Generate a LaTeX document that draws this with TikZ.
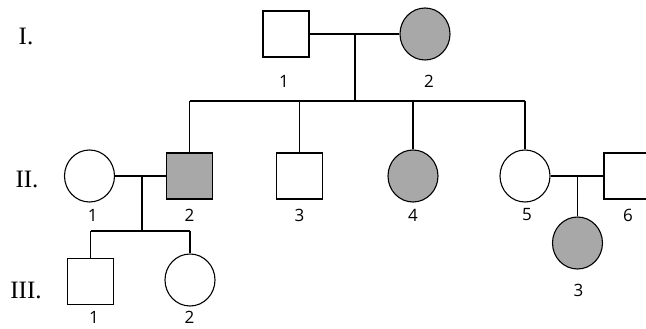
\documentclass[tikz,border=0pt]{standalone}
\usepackage{fontspec}
\setmainfont{Liberation Serif}
\newfontfamily\numfont{Open Sans}
\usepackage{xcolor}
\usetikzlibrary{shapes.geometric}
\definecolor{affgray}{RGB}{168,168,168}

\begin{document}
\begin{tikzpicture}[x=1pt, y=-1pt, line width=1.1pt,
		male/.style={draw, rectangle, minimum size=46pt, inner sep=0pt},
		female/.style={draw, ellipse, minimum width=50pt, minimum height=52pt, inner sep=0pt},
		affected/.style={fill=affgray},
		num/.style={font=\numfont\fontsize{17}{17}\selectfont, inner sep=0pt},
		gen/.style={font=\fontsize{25}{25}\selectfont, inner sep=0pt}]
				\useasboundingbox (0,0) rectangle (646,329);
				% generation I
				\node[gen] (genI) at (26,36) {I.};
				\node[male] (I1) at (286,34) {};
				\node[female, affected] (I2) at (425,34) {};
				\draw (I1.east) -- (I2.west);
				\coordinate (mI) at (355,34);
				\coordinate (sI) at (355,101);
				\draw (mI) -- (sI);
				\node[num] (nI1) at (284,81) {1};
				\node[num] (nI2) at (429,81) {2};
				% generation II
				\node[gen] (genII) at (27,179) {II.};
				\node[female] (II1) at (89.5,176) {};
				\node[male, affected] (II2) at (189.5,176) {};
				\node[male] (II3) at (299.5,176) {};
				\node[female, affected] (II4) at (413,176) {};
				\node[female] (II5) at (525,176) {};
				\node[male] (II6) at (627,176) {};
				\draw (II2.north |- sI) -- (II5.north |- sI);
				\foreach \c in {II2,II3,II4,II5}
					\draw (\c.north |- sI) -- (\c.north);
				\draw (II1.east) -- (II2.west);
				\draw (II5.east) -- (II6.west);
				\node[num] (nII1) at (92.7,215) {1};
				\node[num] (nII2) at (189.5,215) {2};
				\node[num] (nII3) at (299.5,215) {3};
				\node[num] (nII4) at (413,215) {4};
				\node[num] (nII5) at (527,215) {5};
				\node[num] (nII6) at (628,215) {6};
				% generation III
				\node[gen] (genIII) at (26,290) {III.};
				\node[male] (III1) at (90.5,281.5) {};
				\node[female] (III2) at (190,280) {};
				\node[female, affected] (III3) at (577.5,243) {};
				\coordinate (mII) at (142,176);
				\coordinate (sII) at (142,231);
				\draw (mII) -- (sII);
				\draw (III1.north |- sII) -- (III2.north |- sII);
				\draw (III1.north |- sII) -- (III1.north);
				\draw (III2.north |- sII) -- (III2.north);
				\coordinate (mII5) at (577.5,176);
				\draw (mII5) -- (III3.north);
				\node[num] (nIII1) at (94,317) {1};
				\node[num] (nIII2) at (189.5,317) {2};
				\node[num] (nIII3) at (578.5,290) {3};
			\end{tikzpicture}
\end{document}
